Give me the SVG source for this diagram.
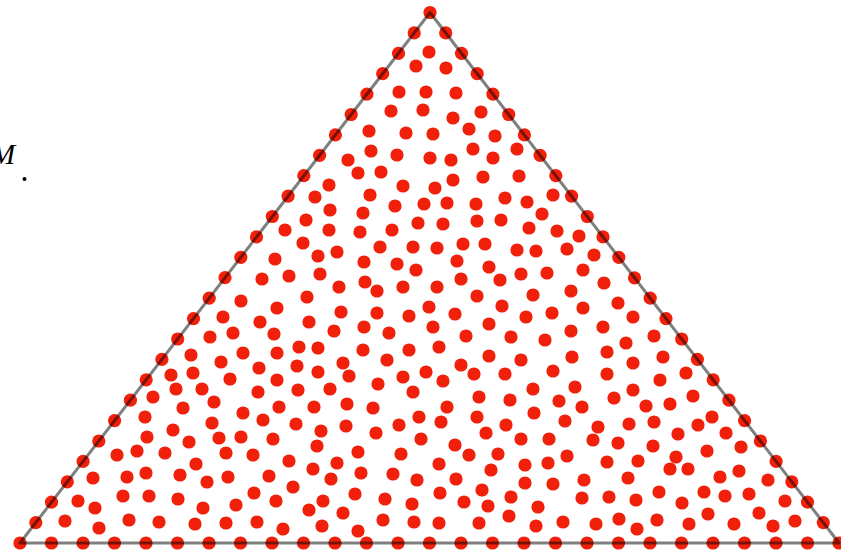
<svg xmlns="http://www.w3.org/2000/svg" xmlns:xlink="http://www.w3.org/1999/xlink" width="841" height="552" viewBox="0 0 841 552">
<style>
.edge{fill:none;stroke:#000;stroke-opacity:0.5;stroke-width:3;stroke-linejoin:round}
.lbl{font-family:"Liberation Serif","Times New Roman",serif;font-style:italic;font-size:29px;fill:#000}
</style>
<defs>
<circle id="d" cx="0" cy="0" r="6.6" fill="#f0200a"/>
</defs>
<rect width="841" height="552" fill="#fff"/>
<g id="interior-points">
<use href="#d" x="429" y="52"/><use href="#d" x="416" y="66"/><use href="#d" x="446" y="68"/>
<use href="#d" x="399" y="92"/><use href="#d" x="426" y="92"/><use href="#d" x="456" y="93"/><use href="#d" x="391" y="111"/><use href="#d" x="423" y="110"/><use href="#d" x="453" y="118"/><use href="#d" x="481" y="112"/><use href="#d" x="369" y="131"/><use href="#d" x="406" y="133"/><use href="#d" x="433" y="134"/><use href="#d" x="469" y="129"/><use href="#d" x="495" y="136"/><use href="#d" x="371" y="151"/><use href="#d" x="397" y="155"/><use href="#d" x="430" y="158"/><use href="#d" x="451" y="160"/><use href="#d" x="473" y="149"/><use href="#d" x="493" y="158"/><use href="#d" x="517" y="149"/><use href="#d" x="348" y="160"/><use href="#d" x="358" y="173"/><use href="#d" x="381" y="172"/><use href="#d" x="403" y="186"/><use href="#d" x="435" y="188"/><use href="#d" x="453" y="180"/><use href="#d" x="483" y="177"/><use href="#d" x="519" y="176"/><use href="#d" x="329" y="185"/><use href="#d" x="315" y="197"/><use href="#d" x="330" y="210"/><use href="#d" x="370" y="195"/><use href="#d" x="395" y="206"/><use href="#d" x="424" y="204"/><use href="#d" x="447" y="203"/><use href="#d" x="476" y="204"/><use href="#d" x="505" y="198"/><use href="#d" x="527" y="202"/><use href="#d" x="553" y="195"/><use href="#d" x="542" y="214"/><use href="#d" x="306" y="220"/><use href="#d" x="363" y="213"/><use href="#d" x="418" y="223"/><use href="#d" x="443" y="224"/><use href="#d" x="477" y="221"/><use href="#d" x="501" y="220"/><use href="#d" x="529" y="228"/><use href="#d" x="329" y="230"/><use href="#d" x="360" y="232"/><use href="#d" x="392" y="230"/><use href="#d" x="557" y="231"/>
<use href="#d" x="285" y="230"/><use href="#d" x="413" y="247"/><use href="#d" x="303" y="243"/><use href="#d" x="318" y="256"/><use href="#d" x="337" y="252"/><use href="#d" x="380" y="247"/><use href="#d" x="275" y="259"/><use href="#d" x="364" y="262"/><use href="#d" x="397" y="264"/><use href="#d" x="416" y="270"/><use href="#d" x="262" y="279"/><use href="#d" x="289" y="276"/><use href="#d" x="320" y="274"/><use href="#d" x="339" y="287"/><use href="#d" x="365" y="282"/><use href="#d" x="377" y="291"/><use href="#d" x="403" y="287"/><use href="#d" x="241" y="301"/><use href="#d" x="307" y="297"/><use href="#d" x="277" y="308"/><use href="#d" x="223" y="317"/><use href="#d" x="260" y="322"/><use href="#d" x="309" y="322"/><use href="#d" x="341" y="312"/><use href="#d" x="377" y="313"/><use href="#d" x="409" y="316"/><use href="#d" x="210" y="337"/><use href="#d" x="233" y="333"/><use href="#d" x="274" y="334"/><use href="#d" x="334" y="331"/><use href="#d" x="364" y="327"/><use href="#d" x="389" y="333"/><use href="#d" x="191" y="355"/><use href="#d" x="221" y="362"/><use href="#d" x="243" y="353"/><use href="#d" x="277" y="353"/><use href="#d" x="299" y="347"/><use href="#d" x="318" y="348"/><use href="#d" x="363" y="350"/><use href="#d" x="409" y="350"/><use href="#d" x="259" y="368"/><use href="#d" x="297" y="366"/><use href="#d" x="343" y="363"/><use href="#d" x="387" y="360"/><use href="#d" x="171" y="375"/><use href="#d" x="193" y="373"/><use href="#d" x="230" y="379"/><use href="#d" x="318" y="372"/><use href="#d" x="349" y="376"/><use href="#d" x="403" y="377"/><use href="#d" x="277" y="380"/>
<use href="#d" x="579" y="236"/><use href="#d" x="437" y="248"/><use href="#d" x="463" y="244"/><use href="#d" x="485" y="244"/><use href="#d" x="517" y="250"/><use href="#d" x="536" y="251"/><use href="#d" x="567" y="249"/><use href="#d" x="594" y="255"/><use href="#d" x="457" y="261"/><use href="#d" x="489" y="267"/><use href="#d" x="521" y="274"/><use href="#d" x="547" y="273"/><use href="#d" x="583" y="270"/><use href="#d" x="461" y="279"/><use href="#d" x="500" y="280"/><use href="#d" x="437" y="287"/><use href="#d" x="477" y="296"/><use href="#d" x="533" y="295"/><use href="#d" x="571" y="291"/><use href="#d" x="604" y="283"/><use href="#d" x="429" y="307"/><use href="#d" x="455" y="314"/><use href="#d" x="502" y="306"/><use href="#d" x="526" y="317"/><use href="#d" x="552" y="313"/><use href="#d" x="583" y="308"/><use href="#d" x="618" y="303"/><use href="#d" x="633" y="317"/><use href="#d" x="433" y="327"/><use href="#d" x="489" y="324"/><use href="#d" x="466" y="336"/><use href="#d" x="511" y="337"/><use href="#d" x="545" y="340"/><use href="#d" x="571" y="331"/><use href="#d" x="603" y="327"/><use href="#d" x="626" y="343"/><use href="#d" x="654" y="336"/><use href="#d" x="439" y="347"/><use href="#d" x="489" y="356"/><use href="#d" x="521" y="360"/><use href="#d" x="572" y="357"/><use href="#d" x="607" y="352"/><use href="#d" x="633" y="363"/><use href="#d" x="663" y="357"/><use href="#d" x="461" y="365"/><use href="#d" x="426" y="372"/><use href="#d" x="474" y="374"/><use href="#d" x="505" y="374"/><use href="#d" x="553" y="371"/><use href="#d" x="607" y="374"/><use href="#d" x="660" y="380"/><use href="#d" x="686" y="373"/><use href="#d" x="443" y="381"/>
<use href="#d" x="153" y="397"/><use href="#d" x="176" y="389"/><use href="#d" x="202" y="389"/><use href="#d" x="214" y="402"/><use href="#d" x="258" y="392"/><use href="#d" x="279" y="407"/><use href="#d" x="298" y="390"/><use href="#d" x="145" y="417"/><use href="#d" x="183" y="408"/><use href="#d" x="212" y="423"/><use href="#d" x="243" y="413"/><use href="#d" x="263" y="420"/><use href="#d" x="296" y="424"/><use href="#d" x="147" y="437"/><use href="#d" x="173" y="430"/><use href="#d" x="189" y="442"/><use href="#d" x="219" y="438"/><use href="#d" x="241" y="437"/><use href="#d" x="273" y="439"/><use href="#d" x="117" y="455"/><use href="#d" x="137" y="451"/><use href="#d" x="165" y="453"/><use href="#d" x="196" y="464"/><use href="#d" x="226" y="453"/><use href="#d" x="253" y="455"/><use href="#d" x="289" y="461"/><use href="#d" x="93" y="478"/><use href="#d" x="127" y="477"/><use href="#d" x="146" y="473"/><use href="#d" x="180" y="475"/><use href="#d" x="207" y="482"/><use href="#d" x="228" y="477"/><use href="#d" x="269" y="476"/><use href="#d" x="293" y="487"/><use href="#d" x="78" y="501"/><use href="#d" x="95" y="508"/><use href="#d" x="123" y="496"/><use href="#d" x="149" y="496"/><use href="#d" x="178" y="499"/><use href="#d" x="203" y="508"/><use href="#d" x="236" y="505"/><use href="#d" x="254" y="493"/><use href="#d" x="276" y="501"/><use href="#d" x="65" y="521"/><use href="#d" x="99" y="528"/><use href="#d" x="129" y="520"/><use href="#d" x="159" y="522"/><use href="#d" x="195" y="524"/><use href="#d" x="226" y="523"/><use href="#d" x="257" y="522"/><use href="#d" x="283" y="529"/>
<use href="#d" x="330" y="389"/><use href="#d" x="378" y="384"/><use href="#d" x="413" y="392"/><use href="#d" x="479" y="397"/><use href="#d" x="510" y="400"/><use href="#d" x="533" y="389"/><use href="#d" x="559" y="401"/><use href="#d" x="314" y="407"/><use href="#d" x="347" y="404"/><use href="#d" x="373" y="408"/><use href="#d" x="447" y="407"/><use href="#d" x="419" y="417"/><use href="#d" x="477" y="417"/><use href="#d" x="534" y="413"/><use href="#d" x="321" y="431"/><use href="#d" x="346" y="426"/><use href="#d" x="376" y="433"/><use href="#d" x="399" y="425"/><use href="#d" x="441" y="422"/><use href="#d" x="486" y="433"/><use href="#d" x="506" y="425"/><use href="#d" x="565" y="421"/><use href="#d" x="317" y="446"/><use href="#d" x="358" y="452"/><use href="#d" x="401" y="454"/><use href="#d" x="421" y="439"/><use href="#d" x="455" y="445"/><use href="#d" x="469" y="455"/><use href="#d" x="498" y="454"/><use href="#d" x="521" y="439"/><use href="#d" x="549" y="439"/><use href="#d" x="337" y="463"/><use href="#d" x="313" y="469"/><use href="#d" x="361" y="473"/><use href="#d" x="393" y="474"/><use href="#d" x="439" y="464"/><use href="#d" x="491" y="470"/><use href="#d" x="525" y="465"/><use href="#d" x="548" y="463"/><use href="#d" x="567" y="456"/><use href="#d" x="331" y="479"/><use href="#d" x="417" y="480"/><use href="#d" x="456" y="479"/><use href="#d" x="355" y="494"/><use href="#d" x="385" y="499"/><use href="#d" x="440" y="493"/><use href="#d" x="482" y="490"/><use href="#d" x="525" y="483"/><use href="#d" x="553" y="484"/><use href="#d" x="323" y="501"/><use href="#d" x="309" y="510"/><use href="#d" x="343" y="513"/><use href="#d" x="412" y="504"/><use href="#d" x="464" y="502"/><use href="#d" x="488" y="506"/><use href="#d" x="511" y="497"/><use href="#d" x="538" y="507"/><use href="#d" x="322" y="526"/><use href="#d" x="358" y="531"/><use href="#d" x="383" y="520"/><use href="#d" x="414" y="522"/><use href="#d" x="439" y="523"/><use href="#d" x="479" y="523"/><use href="#d" x="509" y="516"/><use href="#d" x="536" y="526"/><use href="#d" x="563" y="522"/>
<use href="#d" x="575" y="387"/><use href="#d" x="614" y="398"/><use href="#d" x="633" y="390"/><use href="#d" x="582" y="407"/><use href="#d" x="646" y="406"/><use href="#d" x="670" y="404"/><use href="#d" x="693" y="396"/><use href="#d" x="598" y="427"/><use href="#d" x="629" y="424"/><use href="#d" x="654" y="422"/><use href="#d" x="698" y="425"/><use href="#d" x="712" y="417"/><use href="#d" x="593" y="440"/><use href="#d" x="618" y="443"/><use href="#d" x="653" y="446"/><use href="#d" x="678" y="434"/><use href="#d" x="726" y="433"/><use href="#d" x="607" y="462"/><use href="#d" x="638" y="461"/><use href="#d" x="676" y="457"/><use href="#d" x="707" y="451"/><use href="#d" x="741" y="447"/><use href="#d" x="584" y="480"/><use href="#d" x="628" y="478"/><use href="#d" x="670" y="469"/><use href="#d" x="688" y="469"/><use href="#d" x="720" y="477"/><use href="#d" x="739" y="471"/><use href="#d" x="768" y="480"/><use href="#d" x="582" y="498"/><use href="#d" x="609" y="497"/><use href="#d" x="636" y="500"/><use href="#d" x="659" y="492"/><use href="#d" x="682" y="503"/><use href="#d" x="704" y="492"/><use href="#d" x="725" y="496"/><use href="#d" x="749" y="494"/><use href="#d" x="785" y="501"/><use href="#d" x="596" y="524"/><use href="#d" x="619" y="519"/><use href="#d" x="637" y="529"/><use href="#d" x="657" y="520"/><use href="#d" x="689" y="524"/><use href="#d" x="708" y="514"/><use href="#d" x="734" y="524"/><use href="#d" x="759" y="513"/><use href="#d" x="773" y="526"/><use href="#d" x="795" y="521"/>
</g>
<g id="boundary-points">
<use href="#d" x="20" y="543"/><use href="#d" x="35.8" y="522.6"/><use href="#d" x="51.5" y="502.2"/><use href="#d" x="67.3" y="481.8"/><use href="#d" x="83.1" y="461.4"/><use href="#d" x="98.8" y="441"/><use href="#d" x="114.6" y="420.6"/><use href="#d" x="130.4" y="400.2"/><use href="#d" x="146.2" y="379.8"/><use href="#d" x="161.9" y="359.4"/><use href="#d" x="177.7" y="339"/><use href="#d" x="193.5" y="318.6"/><use href="#d" x="209.2" y="298.2"/><use href="#d" x="225" y="277.7"/><use href="#d" x="240.8" y="257.3"/><use href="#d" x="256.5" y="236.9"/><use href="#d" x="272.3" y="216.5"/><use href="#d" x="288.1" y="196.1"/><use href="#d" x="303.8" y="175.7"/><use href="#d" x="319.6" y="155.3"/><use href="#d" x="335.4" y="134.9"/><use href="#d" x="351.2" y="114.5"/><use href="#d" x="366.9" y="94.1"/><use href="#d" x="382.7" y="73.7"/><use href="#d" x="398.5" y="53.3"/><use href="#d" x="414.2" y="32.9"/>
<use href="#d" x="430" y="12.5"/><use href="#d" x="445.7" y="32.9"/><use href="#d" x="461.5" y="53.3"/><use href="#d" x="477.2" y="73.7"/><use href="#d" x="492.9" y="94.1"/><use href="#d" x="508.7" y="114.5"/><use href="#d" x="524.4" y="134.9"/><use href="#d" x="540.1" y="155.3"/><use href="#d" x="555.8" y="175.7"/><use href="#d" x="571.6" y="196.1"/><use href="#d" x="587.3" y="216.5"/><use href="#d" x="603" y="236.9"/><use href="#d" x="618.8" y="257.3"/><use href="#d" x="634.5" y="277.8"/><use href="#d" x="650.2" y="298.2"/><use href="#d" x="666" y="318.6"/><use href="#d" x="681.7" y="339"/><use href="#d" x="697.4" y="359.4"/><use href="#d" x="713.2" y="379.8"/><use href="#d" x="728.9" y="400.2"/><use href="#d" x="744.6" y="420.6"/><use href="#d" x="760.4" y="441"/><use href="#d" x="776.1" y="461.4"/><use href="#d" x="791.8" y="481.8"/><use href="#d" x="807.5" y="502.2"/><use href="#d" x="823.3" y="522.6"/>
<use href="#d" x="839" y="543"/><use href="#d" x="807.5" y="543"/><use href="#d" x="776" y="543"/><use href="#d" x="744.5" y="543"/><use href="#d" x="713" y="543"/><use href="#d" x="681.5" y="543"/><use href="#d" x="650" y="543"/><use href="#d" x="618.5" y="543"/><use href="#d" x="587" y="543"/><use href="#d" x="555.5" y="543"/><use href="#d" x="524" y="543"/><use href="#d" x="492.5" y="543"/><use href="#d" x="461" y="543"/><use href="#d" x="429.5" y="543"/><use href="#d" x="398" y="543"/><use href="#d" x="366.5" y="543"/><use href="#d" x="335" y="543"/><use href="#d" x="303.5" y="543"/><use href="#d" x="272" y="543"/><use href="#d" x="240.5" y="543"/><use href="#d" x="209" y="543"/><use href="#d" x="177.5" y="543"/><use href="#d" x="146" y="543"/><use href="#d" x="114.5" y="543"/><use href="#d" x="83" y="543"/><use href="#d" x="51.5" y="543"/>
</g>
<g id="triangle">
<polygon class="edge" points="20,543 430,12.5 839,543"/>
</g>
<g id="label-M">
<text class="lbl" x="-9" y="164">M</text>
<circle cx="24.5" cy="179" r="2" fill="#000"/>
</g>
</svg>
